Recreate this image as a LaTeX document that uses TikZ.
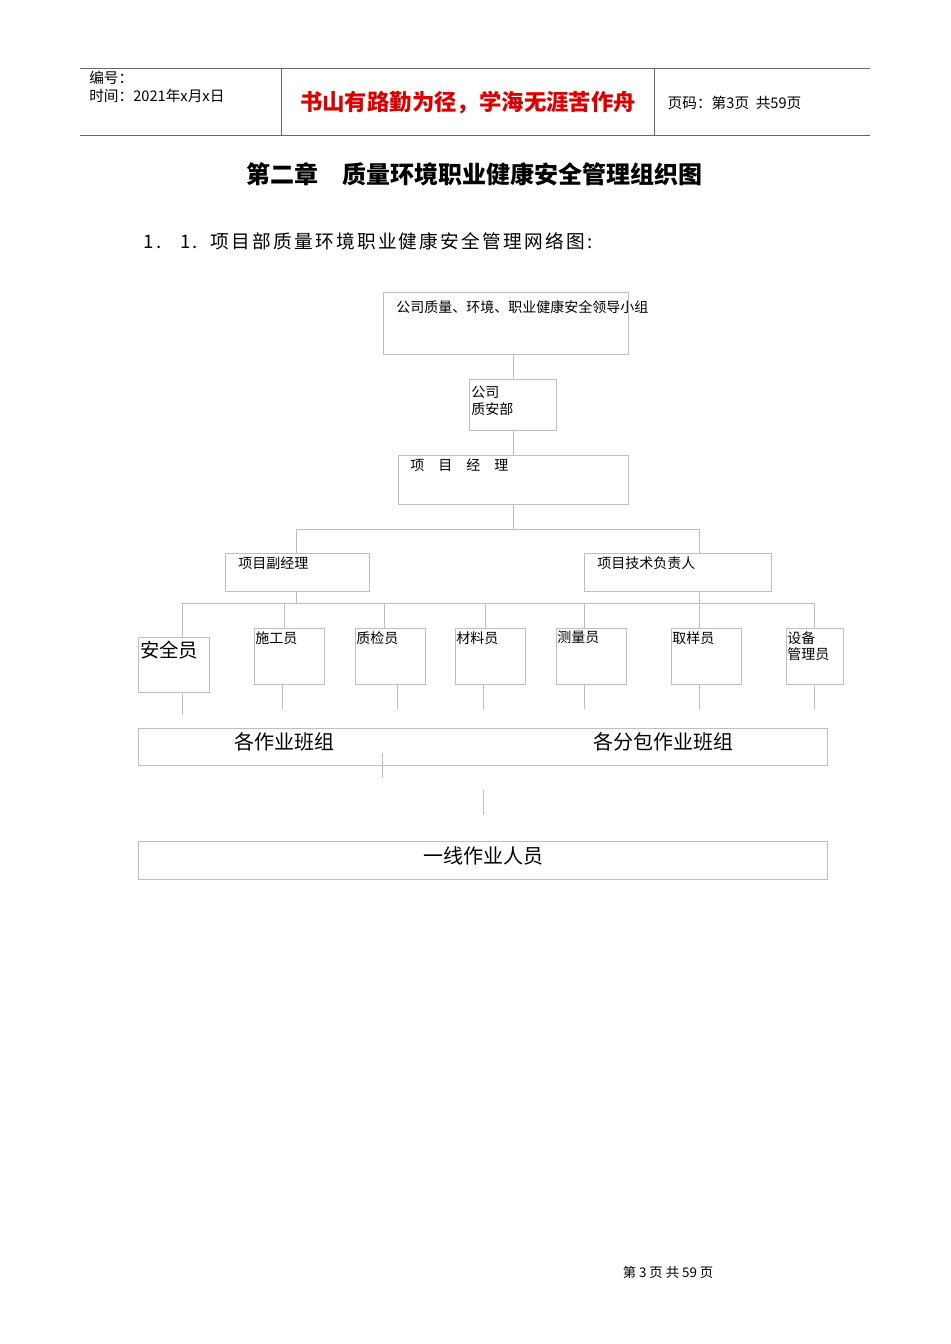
\documentclass[tikz,border=0pt]{standalone}
\usepackage{fontspec}
\setmainfont{Liberation Sans}
\newfontfamily\cjk{Noto Sans CJK SC}
\newfontfamily\cjkw[LetterSpace=12]{Noto Sans CJK SC}
\begin{document}
\begin{tikzpicture}[x=0.75pt,y=-0.75pt,
  box/.style={draw=black!25,line width=0.6pt},
  ln/.style={draw=black!25,line width=0.6pt},
  lab/.style={anchor=north west,inner sep=0pt,font=\cjk\fontsize{10.5}{12.5}\selectfont,align=left},
  hl/.style={draw=black!60,line width=0.7pt}]
\useasboundingbox (0,0) rectangle (950,1344);
% header
\draw[hl] (80,68) -- (870,68) (80,135) -- (870,135) (281,68) -- (281,135) (654,68) -- (654,135);
\node[lab,font=\cjk\fontsize{11}{13}\selectfont] (h1) at (89,71) {编号：\\时间：2021年x月x日};
\node[font=\cjk\bfseries\fontsize{16.8}{20}\selectfont,text=red!85!black] (h2) at (468,103) {书山有路勤为径，学海无涯苦作舟};
\node[anchor=west,font=\cjk\fontsize{11}{13}\selectfont] (h3) at (663,103) {页码：第3页\ \ 共59页};
\node[font=\cjk\bfseries\fontsize{18}{22}\selectfont] (t1) at (474,174) {第二章\quad 质量环境职业健康安全管理组织图};
\node[anchor=west,font=\cjkw\fontsize{14}{16}\selectfont] (t2) at (139,241) {1.\quad 1.\ \ 项目部质量环境职业健康安全管理网络图:};
% boxes
\draw[box] (383,292) rectangle (628,354);
\node[lab] (b1) at (396,300) {公司质量、环境、职业健康安全领导小组};
\draw[box] (469,379) rectangle (556,430);
\node[lab] (b2) at (471,386) {公司\\质安部};
\draw[box] (398,455) rectangle (628,504);
\node[lab] (b3) at (410,458) {项\quad 目\quad 经\quad 理};
\draw[box] (225,553) rectangle (369,591);
\node[lab] (b4) at (238,556) {项目副经理};
\draw[box] (584,553) rectangle (771,591);
\node[lab] (b5) at (597,556) {项目技术负责人};
\draw[box] (138,637) rectangle (209,692);
\node[lab,font=\cjk\fontsize{14.5}{16}\selectfont] (c1) at (140,641) {安全员};
\foreach \x/\t/\n in {254/施工员/c2,355/质检员/c3,455/材料员/c4,556/测量员/c5,671/取样员/c6}{
  \draw[box] (\x,628) rectangle (\x+70,684);
  \node[lab] (\n) at (\x+1,631) {\t};}
\draw[box] (786,628) rectangle (843,684);
\node[lab] (c7) at (787,631) {设备\\管理员};
\draw[box] (138,728) rectangle (827,765);
\node[font=\cjk\fontsize{15}{16}\selectfont] (d1) at (284,742) {各作业班组};
\node[font=\cjk\fontsize{15}{16}\selectfont] (d2) at (663,742) {各分包作业班组};
\draw[box] (138,841) rectangle (827,879);
\node[font=\cjk\fontsize{15}{16}\selectfont] (e1) at (483,856) {一线作业人员};
% connectors
\draw[ln] (513,354) -- (513,379) (513,430) -- (513,455) (513,504) -- (513,529)
  (296,529) -- (699,529) (296,529) -- (296,553) (699,529) -- (699,553)
  (296,591) -- (296,603) (182,603) -- (814,603)
  (182,603) -- (182,637) (284,603) -- (284,628) (384,603) -- (384,628) (485,603) -- (485,628)
  (584,603) -- (584,628) (699,591) -- (699,628) (814,603) -- (814,628)
  (182,692) -- (182,715) (282,684) -- (282,709) (397,684) -- (397,709) (483,684) -- (483,709)
  (584,684) -- (584,709) (699,684) -- (699,709) (814,684) -- (814,709)
  (382,753) -- (382,778) (483,790) -- (483,815);
\node[font=\cjk\fontsize{10}{12}\selectfont] (f) at (668,1272) {第 3 页 共 59 页};
\end{tikzpicture}
\end{document}
